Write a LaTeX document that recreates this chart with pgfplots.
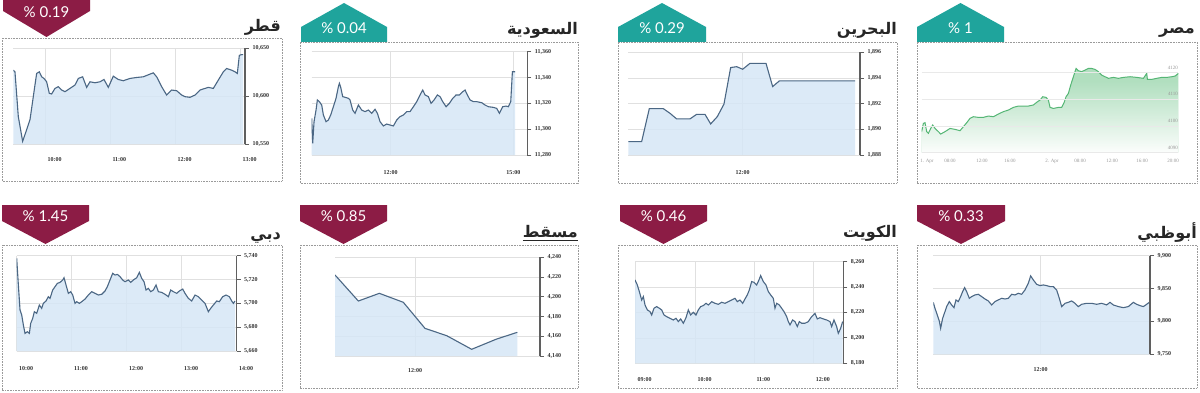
\documentclass[border=0pt]{standalone}
\usepackage{pgfplots}
\pgfplotsset{compat=1.18}
\usepackage{pgfplotstable}
\usetikzlibrary{fadings}
\usepackage{fontspec}
\setmainfont{Liberation Serif}
\newfontfamily\latofont{Lato}
\newfontfamily\arabicfont[Script=Arabic]{DejaVu Sans}
\TeXXeTstate=1

\definecolor{bmaroon}{HTML}{8C1C45}
\definecolor{bteal}{HTML}{1FA49C}
\definecolor{linec}{HTML}{4B6784}
\definecolor{fillc}{HTML}{D6E7F6}
\definecolor{gridc}{HTML}{E0E0E0}
\definecolor{axc}{HTML}{5F5F5F}
\definecolor{labc}{HTML}{333333}
\definecolor{boxc}{HTML}{9A9A9A}
\definecolor{egline}{HTML}{55B675}
\definecolor{egtop}{HTML}{A9DCB9}
\definecolor{eglab}{HTML}{9A9A9A}
\tikzfading[name=fadeup, top color=transparent!100, bottom color=transparent!0]

% Qatar
\pgfplotstableread{
x y
40 10626.9
45 10625.2
55 10578.6
68 10552.8
80 10564.8
90 10575.2
100 10599.3
110 10623.5
118 10625.2
125 10620.0
132 10618.3
140 10614.8
148 10602.8
155 10602.1
165 10607.9
175 10609.7
185 10606.2
195 10604.5
210 10607.9
225 10611.4
235 10618.3
248 10620.0
260 10609.0
270 10614.8
285 10613.8
300 10614.8
312 10617.2
325 10609.0
340 10620.7
355 10617.2
370 10615.9
390 10618.3
410 10619.3
430 10620.0
450 10622.8
460 10624.1
470 10620.0
485 10609.7
500 10601.0
515 10606.2
530 10605.5
545 10601.0
555 10599.3
570 10598.6
585 10601.0
600 10606.2
615 10607.9
625 10609.0
640 10607.9
655 10616.6
670 10625.2
680 10628.6
695 10626.9
705 10625.2
712 10623.5
718 10642.4
725 10643.1
729 10643.1
}\qatar

% Saudi
\pgfplotstableread{
x y
35 11308.4
38 11289.0
42 11305.8
48 11314.8
52 11322.6
58 11321.3
65 11318.7
70 11311.0
78 11305.8
85 11307.1
92 11311.0
100 11317.4
108 11323.9
115 11332.9
118 11335.5
122 11332.4
128 11325.2
135 11324.7
145 11323.9
150 11322.6
158 11314.8
165 11312.3
175 11318.7
185 11314.8
195 11313.6
205 11314.8
215 11312.3
225 11315.4
232 11312.3
240 11305.8
250 11302.5
260 11304.0
270 11303.2
280 11302.5
290 11307.1
300 11309.7
310 11311.0
320 11313.6
330 11313.6
340 11317.4
350 11321.3
360 11326.5
368 11330.3
375 11326.5
385 11325.2
393 11320.0
402 11322.6
412 11326.5
420 11325.2
428 11321.3
438 11317.4
448 11320.0
458 11323.9
468 11326.5
478 11326.5
488 11329.0
495 11330.3
502 11326.5
510 11322.6
520 11321.3
530 11321.3
545 11320.5
555 11318.7
565 11317.4
580 11316.9
590 11316.1
598 11312.3
608 11317.4
618 11317.9
625 11317.4
632 11321.3
637 11344.5
645 11344.5
}\saudi

% Bahrain
\pgfplotstableread{
x y
85 1889.04
125 1889.04
148 1891.61
190 1891.61
210 1891.25
230 1890.81
270 1890.81
290 1891.17
315 1891.17
332 1890.42
352 1890.99
372 1891.97
392 1894.81
410 1894.88
428 1894.68
450 1895.14
498 1895.14
518 1893.33
538 1893.77
765 1893.77
}\bahrain

% Egypt
\pgfplotstableread{
x y
65 4097.9
70 4101.0
75 4101.25
80 4097.9
85 4097.25
92 4099.1
98 4100.4
105 4099.1
115 4097.9
122 4097.0
135 4097.9
150 4099.1
165 4098.75
180 4098.25
190 4099.75
200 4101.25
210 4102.9
220 4103.5
235 4103.25
250 4103.25
265 4103.75
280 4103.5
295 4104.5
310 4105.4
325 4106.0
340 4107.0
355 4107.5
370 4107.5
385 4107.5
400 4107.9
412 4109.1
420 4109.75
428 4111.0
438 4110.75
445 4109.75
450 4107.0
460 4106.6
475 4107.0
485 4107.0
492 4108.75
498 4111.0
505 4112.25
512 4115.4
520 4118.5
528 4121.6
535 4120.75
545 4120.4
555 4121.0
565 4121.6
575 4121.6
585 4121.25
595 4120.4
605 4119.1
615 4118.5
625 4117.9
640 4118.25
655 4117.9
670 4118.25
690 4118.5
710 4118.25
730 4117.9
740 4119.75
742 4117.5
755 4117.5
770 4117.9
785 4118.25
800 4118.25
815 4118.5
825 4118.75
835 4119.75
}\egypt

% Dubai
\pgfplotstableread{
x y
50 5737.8
55 5715.4
60 5694.4
65 5690.2
70 5681.8
75 5674.8
82 5676.2
88 5674.8
92 5683.2
98 5687.4
103 5693.0
110 5691.6
118 5698.6
125 5695.8
130 5700.0
138 5702.0
145 5705.6
150 5704.2
158 5711.2
165 5714.0
172 5716.8
180 5717.6
188 5719.6
192 5721.5
198 5715.4
205 5708.4
212 5709.8
218 5707.0
225 5700.0
230 5701.4
238 5700.0
245 5701.4
255 5703.6
265 5707.0
275 5709.8
285 5708.4
295 5707.0
305 5707.6
315 5710.4
322 5714.0
330 5719.6
338 5725.2
345 5723.8
352 5724.3
360 5722.4
368 5719.6
375 5718.2
385 5719.6
392 5717.6
400 5719.6
410 5721.5
418 5726.0
425 5721.0
432 5718.2
438 5711.2
445 5712.6
452 5709.8
460 5711.2
468 5715.4
475 5709.8
485 5709.2
495 5707.6
505 5705.6
512 5711.2
520 5709.8
530 5708.4
538 5710.4
548 5712.0
555 5708.4
565 5704.2
575 5702.0
585 5707.0
595 5705.6
605 5702.8
615 5700.0
625 5693.0
632 5695.8
640 5698.6
650 5702.0
658 5701.4
668 5705.6
678 5707.0
688 5705.6
695 5702.0
700 5700.0
705 5702.0
}\dubai

% Muscat
\pgfplotstableread{
x y
105 4222.1
175 4195.7
238 4203.5
310 4194.4
375 4168.0
440 4160.6
515 4146.8
590 4157.2
652 4164.0
}\muscat

% Kuwait
\pgfplotstableread{
x y
105 8245.6
112 8241.6
118 8236.4
125 8229.8
130 8232.5
135 8225.9
142 8222.0
150 8220.7
155 8218.0
162 8223.3
170 8224.6
178 8223.3
185 8222.0
192 8218.0
200 8216.7
210 8215.4
220 8214.1
228 8215.4
235 8212.8
242 8214.9
250 8211.5
258 8215.9
265 8222.0
272 8218.0
280 8220.1
288 8218.0
295 8222.0
302 8224.6
310 8225.4
318 8227.2
325 8225.9
335 8228.5
345 8227.2
355 8226.4
365 8228.0
375 8227.2
385 8228.5
395 8229.8
405 8231.1
412 8228.5
420 8229.8
428 8227.2
435 8230.6
442 8233.8
448 8237.7
455 8244.3
462 8243.7
470 8241.6
477 8245.6
482 8249.0
490 8244.3
498 8241.6
505 8236.4
512 8233.8
520 8231.1
525 8223.3
530 8227.2
538 8225.9
545 8223.3
552 8220.7
560 8216.7
565 8212.8
570 8210.2
578 8214.1
585 8212.8
592 8208.9
598 8212.8
605 8211.5
615 8211.5
625 8212.8
635 8216.7
645 8219.3
652 8214.9
660 8215.9
670 8214.9
680 8214.1
690 8212.8
695 8208.9
702 8214.1
710 8208.9
715 8203.6
722 8207.5
728 8212.8
}\kuwait

% Abu Dhabi
\pgfplotstableread{
x y
100 9829.0
105 9819.9
112 9809.8
118 9800.7
122 9789.5
128 9804.7
135 9814.9
140 9822.5
148 9830.1
155 9825.0
162 9820.9
168 9832.6
175 9830.1
182 9837.7
188 9845.3
194 9851.3
200 9845.3
208 9835.1
215 9837.7
225 9840.2
235 9841.2
245 9837.7
255 9834.1
265 9831.1
275 9825.0
285 9830.1
295 9832.6
305 9835.1
315 9834.1
325 9835.1
335 9841.2
345 9840.2
355 9842.7
365 9841.2
375 9847.8
385 9857.9
392 9869.1
400 9863.0
410 9856.4
420 9854.4
430 9855.4
440 9854.4
450 9852.9
460 9852.9
470 9847.8
478 9835.1
485 9822.5
495 9827.5
505 9829.0
515 9831.1
525 9827.5
535 9822.5
545 9826.0
560 9827.5
575 9827.5
590 9826.0
605 9827.5
620 9825.0
630 9829.0
640 9825.0
655 9822.5
670 9820.9
685 9822.5
700 9829.0
710 9826.0
720 9824.0
730 9822.5
740 9826.0
748 9829.0
}\abudhabi

\pgfplotsset{
  panel/.style={
    scale only axis, anchor=south west,
    scaled x ticks=false, scaled y ticks=false,
    axis line style={draw=none},
    grid=major, grid style={draw=gridc, line width=0.6pt},
    tick align=outside, major tick length=4pt,
    xtick pos=bottom, ytick pos=right, yticklabel pos=right,
    xtick style={draw=none},
    ytick style={draw=axc, line width=0.9pt},
    tick label style={font=\fontsize{6}{7}\selectfont\bfseries, text=labc},
  },
  leftlab/.style={xticklabel style={anchor=north west, xshift=-1pt, yshift=#1}},
  ctrlab/.style={xticklabel style={yshift=#1}},
}

\newcommand{\drawseries}[4]{%
  \addplot[fill=fillc, draw=none, fill opacity=0.85] table {#1} -- (axis cs:#3,#4) -- (axis cs:#2,#4) -- cycle;
  \addplot[linec, line width=1.1pt] table {#1};
}

\begin{document}
\begin{tikzpicture}
\useasboundingbox (0,0) rectangle (1200pt,392pt);
\fill[white] (0,0) rectangle (1200pt,392pt);

% panel boxes
\begin{scope}[boxc, densely dotted, line width=0.6pt]
\draw (2pt,211pt) rectangle (282pt,354pt);
\draw (300pt,209pt) rectangle (578pt,350pt);
\draw (618pt,209pt) rectangle (897pt,350pt);
\draw (917pt,209pt) rectangle (1197pt,350pt);
\draw (2pt,2pt) rectangle (282pt,147pt);
\draw (300pt,4pt) rectangle (578pt,147pt);
\draw (618pt,4pt) rectangle (897pt,147pt);
\draw (917pt,4pt) rectangle (1197pt,147pt);
\end{scope}

% ---------- Qatar
\begin{axis}[panel, name=a1, at={(13.3pt,248pt)}, width=231.7pt, height=96pt,
  xmin=40, xmax=735, ymin=10550, ymax=10650,
  xtick={135,330,525,720}, xticklabels={10:00,11:00,12:00,13:00}, leftlab=-6pt,
  ytick={10550,10600,10650}, yticklabels={{10,550},{10,600},{10,650}}]
\drawseries{\qatar}{40}{729}{10550}
\end{axis}
\draw[axc, line width=1.3pt] (a1.south east) -- (a1.north east);

% ---------- Saudi
\begin{axis}[panel, name=a2, at={(311.7pt,237pt)}, width=215.7pt, height=103.3pt,
  xmin=35, xmax=682, ymin=11280, ymax=11360,
  xtick={272,640}, xticklabels={12:00,15:00}, ctrlab=-8pt,
  ytick={11280,11300,11320,11340,11360}, yticklabels={{11,280},{11,300},{11,320},{11,340},{11,360}}]
\drawseries{\saudi}{35}{645}{11280}
\end{axis}
\draw[axc, line width=1.3pt] (a2.south east) -- (a2.north east);

% ---------- Bahrain
\begin{axis}[panel, name=a3, at={(628.3pt,237pt)}, width=231.7pt, height=102.7pt,
  xmin=85, xmax=780, ymin=1888, ymax=1896,
  xtick={428}, xticklabels={12:00}, ctrlab=-8pt,
  ytick={1888,1890,1892,1894,1896}, yticklabels={{1,888},{1,890},{1,892},{1,894},{1,896}}]
\drawseries{\bahrain}{85}{765}{1888}
\end{axis}
\draw[axc, line width=1.3pt] (a3.south east) -- (a3.north east);

% ---------- Egypt
\begin{axis}[panel, name=a4, at={(921.7pt,239.3pt)}, width=256.7pt, height=93.3pt,
  xmin=65, xmax=835, ymin=4090, ymax=4125, axis on top,
  xmajorgrids=false, ytick style={draw=none},
  grid style={draw=gridc!70, line width=0.6pt},
  tick label style={font=\fontsize{5}{6}\selectfont, text=eglab},
  yticklabel style={anchor=south east, xshift=-1pt},
  xtick={81,150,246,330,456,540,636,726,819},
  xticklabels={1. Apr,08:00,12:00,16:00,2. Apr,08:00,12:00,16:00,20:00},
  xticklabel style={yshift=1pt},
  ytick={4090,4100,4110,4120}, yticklabels={4090,4100,4110,4120}]
\addplot[fill=egtop, draw=none, fill opacity=0.9] table {\egypt} -- (axis cs:835,4090) -- (axis cs:65,4090) -- cycle;
\fill[white, path fading=fadeup] (axis cs:60,4089) rectangle (axis cs:840,4117);
\addplot[egline, line width=1pt] table {\egypt};
\end{axis}

% ---------- Dubai
\begin{axis}[panel, name=a5, at={(16.7pt,41pt)}, width=220pt, height=95.3pt,
  xmin=50, xmax=710, ymin=5660, ymax=5740,
  xtick={50,215,380,545,710}, xticklabels={10:00,11:00,12:00,13:00,14:00}, leftlab=-8pt,
  ytick={5660,5680,5700,5720,5740}, yticklabels={{5,660},{5,680},{5,700},{5,720},{5,740}}]
\drawseries{\dubai}{50}{705}{5660}
\end{axis}
\draw[axc, line width=1.3pt] (a5.south east) -- (a5.north east);

% ---------- Muscat
\begin{axis}[panel, name=a6, at={(335pt,36pt)}, width=205pt, height=98.7pt,
  xmin=105, xmax=720, ymin=4140, ymax=4240,
  xtick={345}, xticklabels={12:00}, ctrlab=-5pt,
  ytick={4140,4160,4180,4200,4220,4240}, yticklabels={{4,140},{4,160},{4,180},{4,200},{4,220},{4,240}}]
\drawseries{\muscat}{105}{652}{4140}
\end{axis}
\draw[axc, line width=1.3pt] (a6.south east) -- (a6.north east);

% ---------- Kuwait
\begin{axis}[panel, name=a7, at={(635pt,28.7pt)}, width=208.3pt, height=101.7pt,
  xmin=105, xmax=730, ymin=8180, ymax=8260,
  xtick={105,285,462,640}, xticklabels={09:00,10:00,11:00,12:00}, leftlab=-7pt,
  ytick={8180,8200,8220,8240,8260}, yticklabels={{8,180},{8,200},{8,220},{8,240},{8,260}}]
\drawseries{\kuwait}{105}{728}{8180}
\end{axis}
\draw[axc, line width=1.3pt] (a7.south east) -- (a7.north east);

% ---------- Abu Dhabi
\begin{axis}[panel, name=a8, at={(933.3pt,37.7pt)}, width=216.7pt, height=98.7pt,
  xmin=100, xmax=750, ymin=9750, ymax=9900,
  xtick={422}, xticklabels={12:00}, ctrlab=-6pt,
  ytick={9750,9800,9850,9900}, yticklabels={{9,750},{9,800},{9,850},{9,900}}]
\drawseries{\abudhabi}{100}{748}{9750}
\end{axis}
\draw[axc, line width=1.3pt] (a8.south east) -- (a8.north east);

% ---------- badges
\fill[bmaroon] (3pt,392pt) -- (90pt,392pt) -- (90pt,381pt) -- (46.5pt,355pt) -- (3pt,381pt) -- cycle;
\node[text=white, font=\latofont\fontsize{15}{16}\selectfont] at (46.5pt,380pt) {\% 0.19};

\fill[bteal] (301pt,350pt) -- (301pt,365pt) -- (344pt,389pt) -- (387pt,365pt) -- (387pt,350pt) -- cycle;
\node[text=white, font=\latofont\fontsize{15}{16}\selectfont] at (344pt,364pt) {\% 0.04};
\fill[bteal] (618pt,350pt) -- (618pt,365pt) -- (662pt,389pt) -- (706pt,365pt) -- (706pt,350pt) -- cycle;
\node[text=white, font=\latofont\fontsize{15}{16}\selectfont] at (662pt,364pt) {\% 0.29};
\fill[bteal] (917pt,350pt) -- (917pt,365pt) -- (960.5pt,389pt) -- (1004pt,365pt) -- (1004pt,350pt) -- cycle;
\node[text=white, font=\latofont\fontsize{15}{16}\selectfont] at (960.5pt,364pt) {\% 1};

\fill[bmaroon] (2pt,187pt) -- (89pt,187pt) -- (89pt,171pt) -- (45.5pt,148pt) -- (2pt,171pt) -- cycle;
\node[text=white, font=\latofont\fontsize{15}{16}\selectfont] at (45.5pt,176pt) {\% 1.45};
\fill[bmaroon] (300pt,187pt) -- (387pt,187pt) -- (387pt,171pt) -- (343.5pt,148pt) -- (300pt,171pt) -- cycle;
\node[text=white, font=\latofont\fontsize{15}{16}\selectfont] at (343.5pt,176pt) {\% 0.85};
\fill[bmaroon] (620pt,187pt) -- (707pt,187pt) -- (707pt,171pt) -- (663.5pt,148pt) -- (620pt,171pt) -- cycle;
\node[text=white, font=\latofont\fontsize{15}{16}\selectfont] at (663.5pt,176pt) {\% 0.46};
\fill[bmaroon] (917pt,187pt) -- (1005pt,187pt) -- (1005pt,171pt) -- (961pt,148pt) -- (917pt,171pt) -- cycle;
\node[text=white, font=\latofont\fontsize{15}{16}\selectfont] at (961pt,176pt) {\% 0.33};

% ---------- titles
\begin{scope}[every node/.style={anchor=base east, inner sep=0pt, text=black!85, font=\arabicfont\bfseries\fontsize{16}{18}\selectfont}]
\node at (281pt,360pt) {\beginR قطر\endR};
\node at (578pt,357pt) {\beginR السعودية\endR};
\node at (897pt,357pt) {\beginR البحرين\endR};
\node at (1195pt,358pt) {\beginR مصر\endR};
\node at (281pt,153pt) {\beginR دبي\endR};
\node (msq) at (578pt,155pt) {\beginR مسقط\endR};
\node at (897pt,155pt) {\beginR الكويت\endR};
\node at (1197pt,154pt) {\beginR أبوظبي\endR};
\end{scope}
\draw[black!85, line width=0.8pt] ([yshift=-3pt]msq.base west) -- ([yshift=-3pt]msq.base east);
\end{tikzpicture}
\end{document}
